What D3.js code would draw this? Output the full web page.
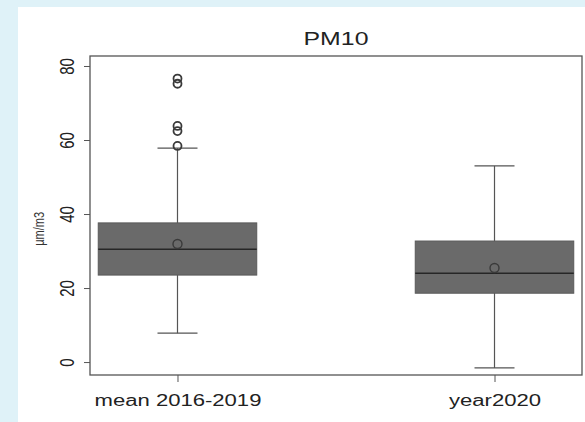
<!DOCTYPE html>
<html>
<head>
<meta charset="utf-8">
<script src="https://cdn.jsdelivr.net/npm/d3@7"></script>
<style>
  html, body { margin: 0; padding: 0; background: #dff2f8; }
  svg { display: block; }
</style>
</head>
<body>
<div id="chart"></div>
<script>
// groups and their box statistics
var categories = ['mean 2016-2019', 'year2020'];
var q1 = [23.5, 18.6];
var medians = [30.5, 24.0];
var q3 = [37.6, 32.7];
var whiskerLow = [7.8, -1.6];
var whiskerHigh = [57.8, 53.0];
var means = [31.9, 25.4];
var outliers = [[58.4, 62.4, 63.8, 75.2, 76.6], []];
var yTicks = [0, 20, 40, 60, 80];

var width = 585, height = 422;
var frame = { left: 90, right: 582, top: 56, bottom: 375 };
var stretch = 1.38; // the source picture is wider than tall, text looks stretched
var font = 'Liberation Sans, Arial, sans-serif';

var svg = d3.select('#chart').append('svg')
    .attr('width', width)
    .attr('height', height);

// white panel on the blue page
svg.append('rect')
    .attr('x', 18).attr('y', 7)
    .attr('width', width - 18).attr('height', height - 7)
    .attr('fill', '#ffffff');

var x = d3.scalePoint()
    .domain(categories)
    .range([frame.left, frame.right])
    .padding(0.276);

var y = d3.scaleLinear()
    .domain([-3.5, 82.7])
    .range([frame.bottom, frame.top]);

var boxW = x.step() * 0.5;
var capW = 40;

var data = categories.map(function(c, i) {
    return { name: c, q1: q1[i], med: medians[i], q3: q3[i], lo: whiskerLow[i], hi: whiskerHigh[i], mean: means[i], out: outliers[i] };
});

var g = svg.append('g');

var boxes = g.selectAll('g.box')
    .data(data)
    .join('g')
    .attr('class', 'box');

// whisker stems
boxes.append('line')
    .attr('x1', function(d) { return x(d.name); })
    .attr('x2', function(d) { return x(d.name); })
    .attr('y1', function(d) { return y(d.lo); })
    .attr('y2', function(d) { return y(d.hi); })
    .attr('stroke', '#555')
    .attr('stroke-width', 1.2);

// caps
['lo', 'hi'].forEach(function(k) {
    boxes.append('line')
        .attr('x1', function(d) { return x(d.name) - capW / 2; })
        .attr('x2', function(d) { return x(d.name) + capW / 2; })
        .attr('y1', function(d) { return y(d[k]); })
        .attr('y2', function(d) { return y(d[k]); })
        .attr('stroke', '#555')
        .attr('stroke-width', 1.2);
});

boxes.append('rect')
    .attr('x', function(d) { return x(d.name) - boxW / 2; })
    .attr('width', boxW)
    .attr('y', function(d) { return y(d.q3); })
    .attr('height', function(d) { return y(d.q1) - y(d.q3); })
    .attr('fill', '#6a6a6a')
    .attr('stroke', '#5a5a5a')
    .attr('stroke-width', 1);

boxes.append('line')
    .attr('x1', function(d) { return x(d.name) - boxW / 2; })
    .attr('x2', function(d) { return x(d.name) + boxW / 2; })
    .attr('y1', function(d) { return y(d.med); })
    .attr('y2', function(d) { return y(d.med); })
    .attr('stroke', '#262626')
    .attr('stroke-width', 1.6);

boxes.append('circle')
    .attr('cx', function(d) { return x(d.name); })
    .attr('cy', function(d) { return y(d.mean); })
    .attr('r', 4.5)
    .attr('fill', 'none')
    .attr('stroke', '#3a3a3a')
    .attr('stroke-width', 1.4);

boxes.selectAll('circle.out')
    .data(function(d) { return d.out.map(function(v) { return { name: d.name, v: v }; }); })
    .join('circle')
    .attr('class', 'out')
    .attr('cx', function(d) { return x(d.name); })
    .attr('cy', function(d) { return y(d.v); })
    .attr('r', 4)
    .attr('fill', 'none')
    .attr('stroke', '#3a3a3a')
    .attr('stroke-width', 1.8);

// frame
svg.append('rect')
    .attr('x', frame.left).attr('y', frame.top)
    .attr('width', frame.right - frame.left)
    .attr('height', frame.bottom - frame.top)
    .attr('fill', 'none')
    .attr('stroke', '#555')
    .attr('stroke-width', 1.3);

// y axis
var yAxis = svg.append('g')
    .attr('transform', 'translate(' + frame.left + ',0)')
    .call(d3.axisLeft(y).tickValues(yTicks).tickSize(6));
yAxis.select('.domain').remove();
yAxis.selectAll('.tick line').attr('stroke', '#555');
yAxis.selectAll('.tick text')
    .attr('transform', 'translate(-23,0) scale(' + stretch + ',1) rotate(-90)')
    .attr('x', 0).attr('y', 0)
    .attr('dy', '0.35em')
    .attr('text-anchor', 'middle')
    .style('font-family', font)
    .style('font-size', '15px')
    .attr('fill', '#222');

// x axis
var xAxis = svg.append('g')
    .attr('transform', 'translate(0,' + frame.bottom + ')')
    .call(d3.axisBottom(x).tickSize(7));
xAxis.select('.domain').remove();
xAxis.selectAll('.tick line').attr('stroke', '#555');
xAxis.selectAll('.tick text')
    .attr('y', 0).attr('dy', 0)
    .attr('transform', 'translate(0,31) scale(' + stretch + ',1)')
    .style('font-family', font)
    .style('font-size', '16px')
    .attr('fill', '#222');

svg.append('text')
    .attr('transform', 'translate(' + ((frame.left + frame.right) / 2) + ',45) scale(' + stretch + ',1)')
    .attr('text-anchor', 'middle')
    .style('font-family', font)
    .style('font-size', '18px')
    .attr('fill', '#222')
    .text('PM10');

svg.append('text')
    .attr('transform', 'translate(44,' + y(36) + ') scale(' + stretch + ',1) rotate(-90)')
    .attr('text-anchor', 'middle')
    .style('font-family', font)
    .style('font-size', '11px')
    .attr('fill', '#333')
    .text('\u00b5m/m3');
</script>
</body>
</html>
